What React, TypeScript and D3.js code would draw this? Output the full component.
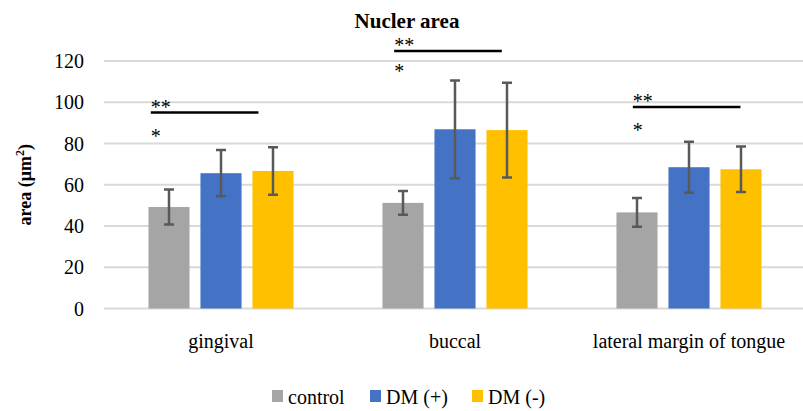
import * as d3 from "d3";
import React from "react";

const width = 803;
const height = 411;
const margin = { top: 61, right: -3, bottom: 102.5, left: 104 };

// data
const categories = ["gingival", "buccal", "lateral margin of tongue"];
const seriesNames = ["control", "DM (+)", "DM (-)"];
const colors = ["#a5a5a5", "#4472c4", "#ffc000"];
const controlValues = [49.2, 51.2, 46.6];
const dmPlusValues = [65.6, 86.9, 68.5];
const dmMinusValues = [66.7, 86.5, 67.5];
const controlErr = [8.5, 5.8, 7.0];
const dmPlusErr = [11.2, 23.7, 12.4];
const dmMinusErr = [11.5, 23.0, 11.0];
const yTicks = [0, 20, 40, 60, 80, 100, 120];

// significance marks: line level, single star level, line span in band fractions
const sigLineValues = [95, 124.8, 97.7];
const sigStarValues = [80.2, 112, 83];
const sigStart = [0.2, 0.24, 0.26];
const sigEnd = [0.66, 0.7, 0.72];

const txt = { fontFamily: '"Liberation Serif"' };

const App = () => {
  const values = [controlValues, dmPlusValues, dmMinusValues];
  const errs = [controlErr, dmPlusErr, dmMinusErr];

  const xScale = d3
    .scaleBand()
    .domain(categories)
    .range([margin.left, width - margin.right]);
  const inner = d3
    .scaleBand()
    .domain(seriesNames)
    .range([0, xScale.bandwidth()])
    .paddingInner(0.21)
    .paddingOuter(0.855);
  const yScale = d3
    .scaleLinear()
    .domain([0, 120])
    .range([height - margin.bottom, margin.top]);

  const legendX = [272, 370, 472];
  const legendY = 397;

  return (
    <svg width={width} height={height} style={{ position: "absolute", left: 0, top: 0 }}>
      {/* gridlines */}
      {yTicks.map((t) => (
        <line
          key={"g" + t}
          x1={margin.left}
          x2={width}
          y1={yScale(t)}
          y2={yScale(t)}
          stroke="#d9d9d9"
          strokeWidth={2}
        />
      ))}

      {/* bars and error bars */}
      {categories.map((c, ci) =>
        seriesNames.map((s, si) => {
          const v = values[si][ci];
          const e = errs[si][ci];
          const bx = (xScale(c) as number) + (inner(s) as number);
          const cx = bx + inner.bandwidth() / 2;
          return (
            <g key={c + s}>
              <rect
                x={bx}
                y={yScale(v)}
                width={inner.bandwidth()}
                height={yScale(0) - yScale(v)}
                fill={colors[si]}
              />
              <path
                d={`M${cx},${yScale(v + e)}V${yScale(v - e)}M${cx - 5},${yScale(v + e)}H${cx + 5}M${cx - 5},${yScale(v - e)}H${cx + 5}`}
                stroke="#595959"
                strokeWidth={2.5}
                fill="none"
              />
            </g>
          );
        })
      )}

      {/* significance lines */}
      {categories.map((c, ci) => (
        <line
          key={"s" + c}
          x1={(xScale(c) as number) + xScale.bandwidth() * sigStart[ci]}
          x2={(xScale(c) as number) + xScale.bandwidth() * sigEnd[ci]}
          y1={yScale(sigLineValues[ci])}
          y2={yScale(sigLineValues[ci])}
          stroke="#000"
          strokeWidth={2.5}
        />
      ))}

      {/* texts */}
      {yTicks.map((t) => (
        <text key={"t" + t} x={84} y={yScale(t) + 7} textAnchor="end" fontSize={20} style={txt}>
          {t}
        </text>
      ))}
      {categories.map((c, ci) => (
        <text
          key={"a" + c}
          x={(xScale(c) as number) + xScale.bandwidth() * sigStart[ci]}
          y={yScale(sigLineValues[ci]) + 1}
          fontSize={20}
          style={txt}
        >
          **
        </text>
      ))}
      {categories.map((c, ci) => (
        <text
          key={"b" + c}
          x={(xScale(c) as number) + xScale.bandwidth() * sigStart[ci]}
          y={yScale(sigStarValues[ci])}
          fontSize={20}
          style={txt}
        >
          *
        </text>
      ))}
      {categories.map((c) => (
        <text
          key={"c" + c}
          x={(xScale(c) as number) + xScale.bandwidth() / 2}
          y={348}
          textAnchor="middle"
          fontSize={20}
          style={txt}
        >
          {c}
        </text>
      ))}

      {/* legend */}
      {seriesNames.map((s, i) => (
        <rect key={"r" + s} x={legendX[i]} y={legendY - 7} width={11} height={12} fill={colors[i]} />
      ))}
      {seriesNames.map((s, i) => (
        <text key={"l" + s} x={legendX[i] + 16} y={legendY + 7} fontSize={20} style={txt}>
          {s}
        </text>
      ))}

      {/* y label */}
      <text
        transform={`translate(31, ${(yScale(0) + yScale(120)) / 2}) rotate(-90)`}
        textAnchor="middle"
        fontSize={18}
        fontWeight="bold"
        style={txt}
      >
        area (μm
        <tspan dy={-7} fontSize={12}>
          2
        </tspan>
        <tspan dy={7}>)</tspan>
      </text>

      {/* title */}
      <text x={407} y={28} textAnchor="middle" fontSize={21} fontWeight="bold" style={txt}>
        Nucler area
      </text>
    </svg>
  );
};

export default App;
